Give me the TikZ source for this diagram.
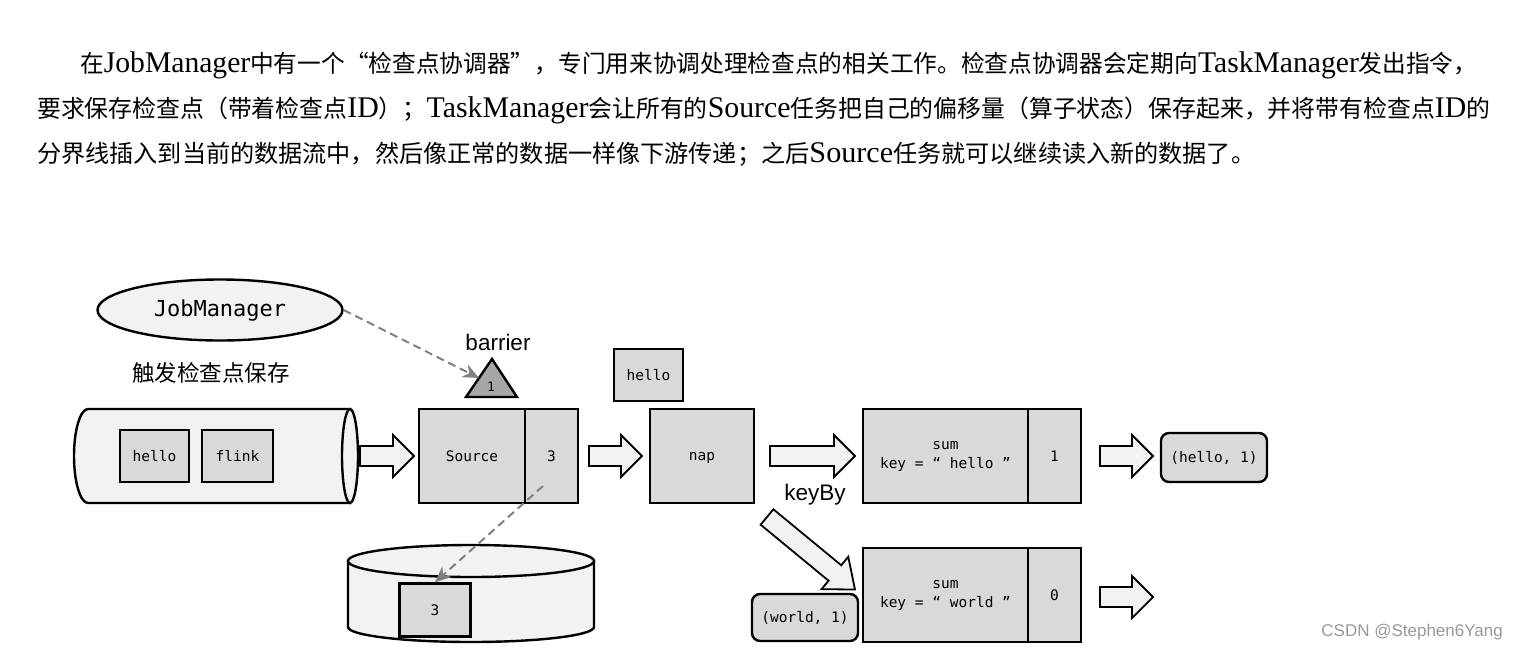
\documentclass[tikz,border=0pt]{standalone}
\usepackage{fontspec}
\usepackage{graphicx}
\setmainfont{Liberation Serif}
\newfontfamily\cjk[Scale=0.8]{Noto Sans CJK SC}
\newfontfamily\cjkd{Noto Sans CJK SC}
\newfontfamily\monof{DejaVu Sans Mono}
\newfontfamily\sansf{Liberation Sans}
\usetikzlibrary{arrows.meta,calc,shapes.geometric}
\newcommand\zh[1]{{\cjk #1}}
\newcommand\fitline[2]{\resizebox{#1}{\height}{#2}}
\definecolor{lightfill}{HTML}{F2F2F2}
\definecolor{boxfill}{HTML}{D9D9D9}
\definecolor{trifill}{HTML}{A6A6A6}
\definecolor{dashgray}{HTML}{808080}
\newcommand\blockarrow[5]{% x, y, length, angle, head length
  \draw[barrow, shift={(#1,#2)}, rotate=#4]
    (0,-10) -- ({#3-#5},-10) -- ({#3-#5},-21) -- (#3,0) -- ({#3-#5},21) -- ({#3-#5},10) -- (0,10) -- cycle;}
\begin{document}
\begin{tikzpicture}[x=1pt,y=-1pt,
  box/.style={draw, line width=2.4pt, fill=boxfill, inner sep=0pt, font=\monof\fontsize{14.5}{19}\selectfont, align=center},
  rbox/.style={box, rounded corners=8pt},
  barrow/.style={draw, line width=1.8pt, fill=lightfill, line join=miter},
  shapeline/.style={draw, line width=2.4pt, fill=lightfill},
  dasharrow/.style={draw=dashgray, line width=2pt, dash pattern=on 8pt off 5pt, -{Stealth[length=16pt,width=14pt]}},
  body/.style={anchor=base west, inner sep=0pt, font=\fontsize{30}{34}\selectfont},
  label/.style={inner sep=0pt, font=\sansf\fontsize{22.5}{26}\selectfont}]
\useasboundingbox (0,0) rectangle (1518,651);

% body text
\node[body] (p1) at (80,72) {\fitline{1397pt}{\zh{在}JobManager\zh{中有一个“检查点协调器”，专门用来协调处理检查点的相关工作。检查点协调器会定期向}TaskManager\zh{发出指令，}}};
\node[body] (p2) at (37,117) {\fitline{1453pt}{\zh{要求保存检查点（带着检查点}ID\zh{）；}TaskManager\zh{会让所有的}Source\zh{任务把自己的偏移量（算子状态）保存起来，并将带有检查点}ID\zh{的}}};
\node[body] (p3) at (37,162) {\fitline{1218pt}{\zh{分界线插入到当前的数据流中，然后像正常的数据一样像下游传递；之后}Source\zh{任务就可以继续读入新的数据了。}}};

% JobManager
\node[draw, line width=2.4pt, fill=lightfill, ellipse, minimum width=245pt, minimum height=61pt, inner sep=0pt, font=\monof\fontsize{22}{26}\selectfont] (jm) at (220,310) {JobManager};
\node[inner sep=0pt, font=\cjkd\fontsize{22.5}{26}\selectfont] (trig) at (211,373) {触发检查点保存};
\node[label] (barrier) at (498,342) {barrier};

% barrier triangle
\draw[line width=2.4pt, fill=trifill, line join=miter] (466,397) -- (492,359) -- (517,397) -- cycle;
\node[inner sep=0pt, font=\monof\fontsize{13}{15}\selectfont] (one) at (491,387) {1};
\coordinate (trileft) at (479,378);

% queue cylinder
\draw[shapeline] (88,409) -- (350,409) -- (350,503) -- (88,503) arc[start angle=270, end angle=90, x radius=14pt, y radius=47pt] -- cycle;
\draw[shapeline] (350,456) ellipse[x radius=8pt, y radius=47pt];
\node[box, minimum width=69pt, minimum height=52pt] (qhello) at (154.5,456) {hello};
\node[box, minimum width=71pt, minimum height=52pt] (qflink) at (237.5,456) {flink};

% source
\node[box, minimum width=106pt, minimum height=94pt] (src) at (472,456) {Source};
\node[box, minimum width=53pt, minimum height=94pt] (srcn) at (551.5,456) {3};

% map
\node[box, minimum width=69pt, minimum height=52pt] (mhello) at (648.5,375) {hello};
\node[box, minimum width=104pt, minimum height=94pt, text depth=0pt] (nap) at (702,456) {nap};

% sums
\node[box, minimum width=165pt, minimum height=94pt] (sumA) at (945.5,456) {sum\\key = “ hello ”};
\node[box, minimum width=53pt, minimum height=94pt] (cA) at (1054.5,456) {1};
\node[box, minimum width=165pt, minimum height=94pt] (sumB) at (945.5,595) {sum\\key = “ world ”};
\node[box, minimum width=53pt, minimum height=94pt] (cB) at (1054.5,595) {0};

\node[rbox, minimum width=106pt, minimum height=49pt] (out1) at (1214,457.5) {(hello, 1)};
\node[rbox, minimum width=106pt, minimum height=47pt] (out2) at (805,617.5) {(world, 1)};
\node[label] (keyby) at (815,495) {keyBy};

% storage disk
\draw[shapeline] (348,561) -- (348,627) arc[start angle=180, end angle=360, x radius=123pt, y radius=15pt] -- (594,561) -- cycle;
\draw[shapeline] (471,561) ellipse[x radius=123pt, y radius=16pt];
\node[box, minimum width=71pt, minimum height=53pt] (st3) at (435,610) {3};

% block arrows
\blockarrow{360}{456}{54}{0}{21}
\blockarrow{589}{456}{53}{0}{21}
\blockarrow{770}{456}{85}{0}{21}
\blockarrow{1100}{456}{53}{0}{21}
\blockarrow{1100}{597}{53}{0}{21}
\blockarrow{767}{517}{114}{-39.5}{26}

% dashed arrows
\coordinate (srcstart) at (543,486);
\draw[dasharrow] (jm.east) -- (trileft);
\draw[dasharrow] (srcstart) -- (st3.north);

\node[anchor=east, inner sep=0pt, text=black!40, font=\sansf\fontsize{17}{20}\selectfont] (wm) at (1503,632) {CSDN @Stephen6Yang};
\end{tikzpicture}
\end{document}
